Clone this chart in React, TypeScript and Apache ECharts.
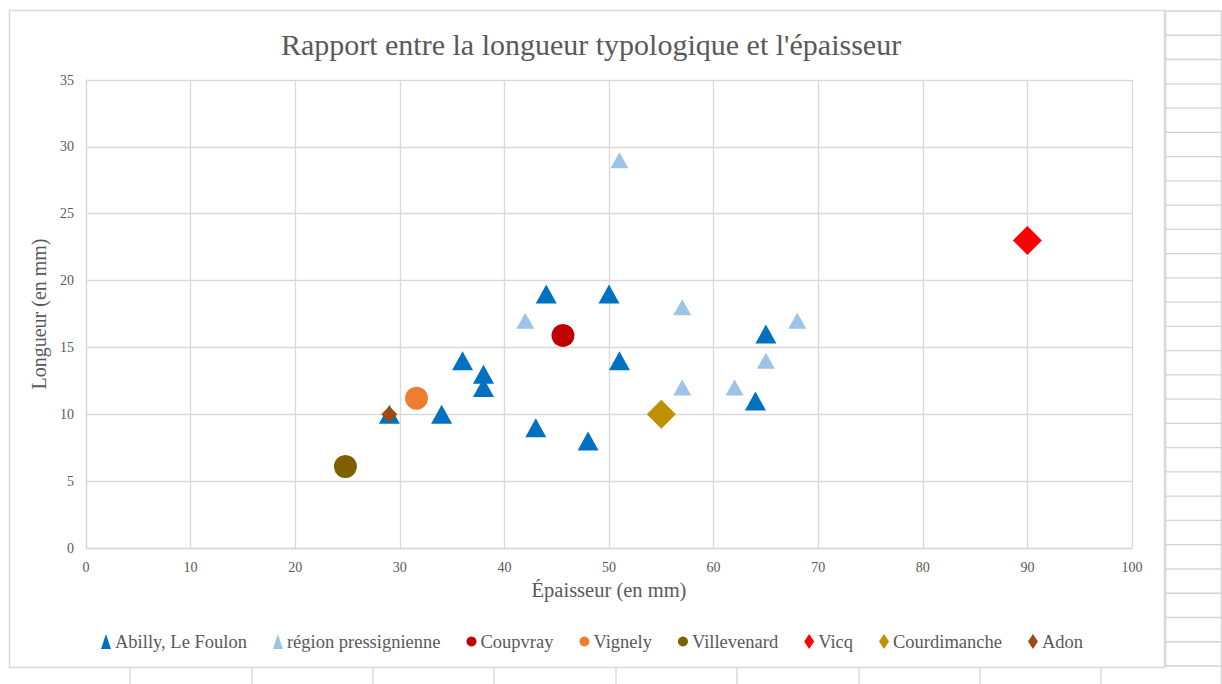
import React, { useEffect, useRef } from "react";
import * as echarts from "echarts";

const TITLE = "Rapport entre la longueur typologique et l'épaisseur";
const X_NAME = "Épaisseur (en mm)";
const Y_NAME = "Longueur (en mm)";

const abilly = [
  [29, 10], [34, 10], [36, 14], [38, 13], [38, 12], [43, 9],
  [44, 19], [48, 8], [50, 19], [51, 14], [64, 11], [65, 16],
];
const region = [[42, 17], [51, 29], [57, 18], [57, 12], [62, 12], [65, 14], [68, 17]];
const coupvray = [[45.6, 15.9]];
const vignely = [[31.6, 11.2]];
const villevenard = [[24.8, 6.1]];
const vicq = [[90, 23]];
const courdimanche = [[55, 10]];
const adon = [[29, 10]];

const FONT = "'Liberation Serif', 'Times New Roman', serif";
const TXT = "#595959";
const GRID = "#d9d9d9";

export default function App() {
  const ref = useRef<HTMLDivElement>(null);
  useEffect(() => {
    if (!ref.current) return;
    const chart = echarts.init(ref.current, undefined, { renderer: "svg" });

    const sheet: any[] = [];
    for (let k = 0; k <= 27; k++) {
      const y = 11 + k * 24.26;
      sheet.push({ type: "line", shape: { x1: 1165.5, y1: y, x2: 1222, y2: y }, style: { stroke: "#d4d4d4", lineWidth: 1.3 }, silent: true });
    }
    sheet.push({ type: "line", shape: { x1: 1165.8, y1: 11, x2: 1165.8, y2: 667 }, style: { stroke: "#d4d4d4", lineWidth: 1.3 }, silent: true });
    sheet.push({ type: "line", shape: { x1: 1221.3, y1: 11, x2: 1221.3, y2: 684 }, style: { stroke: "#d4d4d4", lineWidth: 1.3 }, silent: true });
    [130, 252, 373, 494, 616, 737, 859, 980, 1101].forEach((x) => {
      sheet.push({ type: "line", shape: { x1: x, y1: 668, x2: x, y2: 684 }, style: { stroke: "#d4d4d4", lineWidth: 1.3 }, silent: true });
    });
    sheet.push({ type: "rect", shape: { x: 9.5, y: 10.5, width: 1155, height: 657 }, style: { fill: "none", stroke: "#d9d9d9", lineWidth: 1.5 }, silent: true });

    const sym = (name: string, data: number[][], symbol: string, size: any, color: string) => ({
      name,
      type: "scatter",
      data,
      symbol,
      symbolSize: size,
      itemStyle: { color, opacity: 1 },
      emphasis: { disabled: true },
    });

    chart.setOption({
      animation: false,
      backgroundColor: "#ffffff",
      title: {
        text: TITLE,
        left: 586,
        textAlign: "center",
        top: 24,
        textStyle: { fontFamily: FONT, fontSize: 30, fontWeight: "normal", color: TXT },
      },
      graphic: sheet,
      grid: { left: 86, top: 80, width: 1046, height: 468 },
      xAxis: {
        type: "value",
        min: 0,
        max: 100,
        interval: 10,
        name: X_NAME,
        nameLocation: "middle",
        nameGap: 31,
        nameTextStyle: { fontFamily: FONT, fontSize: 20.5, color: TXT },
        axisLine: { show: true, lineStyle: { color: GRID, width: 1.3 } },
        axisTick: { show: false },
        axisLabel: { fontFamily: FONT, fontSize: 14, color: TXT, margin: 12 },
        splitLine: { show: true, lineStyle: { color: GRID, width: 1.3 } },
      },
      yAxis: {
        type: "value",
        min: 0,
        max: 35,
        interval: 5,
        name: Y_NAME,
        nameLocation: "middle",
        nameGap: 34,
        nameTextStyle: { fontFamily: FONT, fontSize: 20, color: TXT },
        axisLine: { show: true, lineStyle: { color: GRID, width: 1.3 } },
        axisTick: { show: false },
        axisLabel: { fontFamily: FONT, fontSize: 14, color: TXT, margin: 12 },
        splitLine: { show: true, lineStyle: { color: GRID, width: 1.3 } },
      },
      legend: {
        left: 96,
        top: 627,
        itemWidth: 10,
        itemHeight: 15,
        itemGap: 26,
        textStyle: { fontFamily: FONT, fontSize: 18.5, color: TXT, padding: [0, 0, 0, -1] },
        data: ["Abilly, Le Foulon", "région pressignienne", "Coupvray", "Vignely", "Villevenard", "Vicq", "Courdimanche", "Adon"],
      },
      series: [
        sym("Abilly, Le Foulon", abilly, "triangle", [21, 19], "#0070C0"),
        sym("région pressignienne", region, "triangle", [18, 16], "#9DC3E6"),
        sym("Coupvray", coupvray, "circle", 23, "#C00000"),
        sym("Vignely", vignely, "circle", 23, "#ED7D31"),
        sym("Villevenard", villevenard, "circle", 23, "#7F6000"),
        sym("Vicq", vicq, "diamond", 29, "#FF0000"),
        sym("Courdimanche", courdimanche, "diamond", 29, "#BF9000"),
        sym("Adon", adon, "diamond", 16, "#A04A10"),
      ],
    });
    return () => chart.dispose();
  }, []);
  return <div ref={ref} style={{ position: "absolute", left: 0, top: 0, width: 1222, height: 684 }} />;
}
